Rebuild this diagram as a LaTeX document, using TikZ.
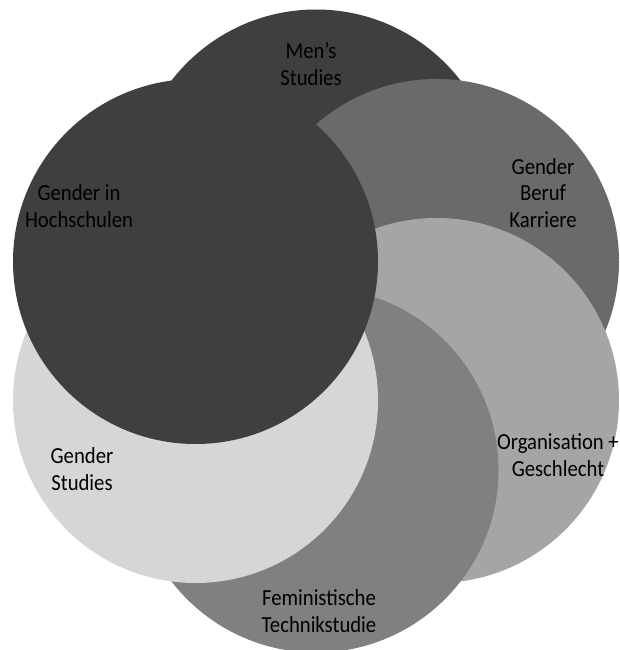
\documentclass[tikz,border=0pt]{standalone}
\usepackage{fontspec}
\setmainfont{Carlito}
\newfontfamily\lblfont[FakeStretch=0.9]{Carlito}
\definecolor{cdark}{HTML}{3F3F3F}
\definecolor{cmid}{HTML}{6A6A6A}
\definecolor{clight}{HTML}{A5A5A5}
\definecolor{cgray}{HTML}{808080}
\definecolor{cpale}{HTML}{D6D6D6}
\begin{document}
\begin{tikzpicture}[x=1pt,y=-1pt,
  circ/.style={circle,minimum size=365pt,inner sep=0pt,draw=none},
  lbl/.style={align=center,text=black,inner sep=0pt,font=\lblfont\fontsize{23}{26.5}\selectfont}]
\fill[white] (0,0) rectangle (619,650);
\clip (0,0) rectangle (619,650);
\node[circ,fill=cdark]  (ms)  at (316,192) {};
\node[circ,fill=cmid]   (gbk) at (436.5,261.5) {};
\node[circ,fill=clight] (og)  at (436.5,400.5) {};
\node[circ,fill=cgray]  (ft)  at (316,470) {};
\node[circ,fill=cpale]  (gs)  at (195.5,400.5) {};
\node[circ,fill=cdark]  (gh)  at (195.5,261.5) {};
\node[lbl] (tms)  at (311,64)  {Men’s\\Studies};
\node[lbl] (tgh)  at (79,206)  {Gender in\\Hochschulen};
\node[lbl] (tgbk) at (543,193) {Gender\\Beruf\\Karriere};
\node[lbl] (tog)  at (558,455) {Organisation +\\Geschlecht};
\node[lbl] (tgs)  at (82,469)  {Gender\\Studies};
\node[lbl] (tft)  at (319,611) {Feministische\\Technikstudie};
\end{tikzpicture}
\end{document}
